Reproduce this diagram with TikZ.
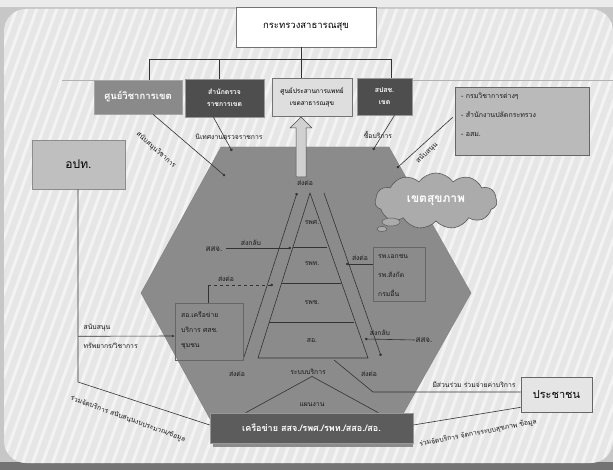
\documentclass[tikz,border=0pt]{standalone}
\usepackage{fontspec}
\newfontfamily\thai[Script=Thai]{Loma}
\usetikzlibrary{shapes.symbols,arrows.meta,calc}
\definecolor{bgc}{HTML}{E6E6E6}
\definecolor{hexc}{HTML}{8B8B8B}
\definecolor{dkc}{HTML}{4E4E4E}
\definecolor{lnc}{HTML}{333333}
\definecolor{midc}{HTML}{8A8A8A}
\tikzset{
  ln/.style={draw=lnc, line width=0.6pt},
  dot/.style={ln, -{Circle[length=2.6pt]}},
  arr/.style={ln, -{Latex[length=3pt,width=2.4pt]}},
  lbl/.style={font=\thai\fontsize{6.8}{8}\selectfont, text=black!90, inner sep=0.5pt},
  boxw/.style={draw=black!55, line width=0.6pt, fill=white, font=\thai\fontsize{9.5}{10}\selectfont},
  boxdk/.style={draw=black!40, line width=0.6pt, fill=dkc, text=white, align=center, font=\thai\bfseries\fontsize{6.8}{12}\selectfont},
  boxlt/.style={draw=black!55, line width=0.6pt, fill=black!13, align=center, font=\thai\fontsize{6.5}{12}\selectfont},
  inbox/.style={draw=black!60, line width=0.6pt, anchor=north west, inner sep=0pt},
  intext/.style={anchor=north west, align=left, inner sep=0pt, text=black!90}
}
\begin{document}
\begin{tikzpicture}[x=1pt,y=-1pt]
\useasboundingbox (0,0) rectangle (613,470);
% background
\fill[black!22] (0,0) rectangle (613,470);
\fill[black!8] (0,0) rectangle (613,7);
\fill[black!55] (0,462) rectangle (613,470);
\fill[bgc, rounded corners=22pt] (4,9) rectangle (613,463);
\begin{scope}
\clip[rounded corners=22pt] (4,9) rectangle (613,463);
\foreach \i in {-200,-190,...,800} \draw[white, line width=3pt, opacity=0.55] (\i,470) -- (\i+170,0);
\end{scope}
\draw[black!30] (62,80) -- (94,80);
\draw[black!30] (413,80) -- (613,80);
% hexagon
\fill[hexc, draw=black!50, line width=0.4pt] (221,147) -- (389,147) -- (471,293) -- (389,439) -- (221,439) -- (141,293) -- cycle;
% cloud
\node[cloud, cloud puffs=11, cloud puff arc=110, aspect=2.1, draw=black!65, line width=0.6pt, fill=black!33, minimum width=122pt, minimum height=56pt, text=white, font=\thai\bfseries\fontsize{12}{13}\selectfont] (cloud) at (436,201) {เขตสุขภาพ};
\draw[draw=black!65, fill=black!33, line width=0.5pt] (391,222) ellipse (9pt and 4pt);
\draw[draw=black!65, fill=black!33, line width=0.5pt] (382,229) ellipse (5pt and 2.6pt);
% top boxes
\node[boxw, minimum width=140pt, minimum height=40pt] (moph) at (306,27) {กระทรวงสาธารณสุข};
\node[draw=black!35, line width=0.6pt, fill=midc, text=white, minimum width=88pt, minimum height=34pt, font=\thai\bfseries\fontsize{9.5}{10}\selectfont] (b1) at (138,97) {ศูนย์วิชาการเขต};
\node[boxdk, minimum width=79pt, minimum height=38pt] (b2) at (224.5,98) {สำนักตรวจ\\ราชการเขต};
\node[boxlt, minimum width=80pt, minimum height=38pt] (b3) at (312,97) {ศูนย์ประสานการแพทย์\\เขตสาธารณสุข};
\node[boxdk, minimum width=55pt, minimum height=37pt] (b4) at (384.5,96.5) {สปสช.\\เขต};
\coordinate (bc) at (301,59);
\coordinate (bl) at (149,59);
\coordinate (bm) at (219,59);
\coordinate (br) at (391,59);
\draw[ln] (moph.south -| bc) -- (b3.north -| bc);
\draw[ln] (bl) -- (br);
\draw[ln] (bl) -- (b1.north -| bl);
\draw[ln] (bm) -- (b2.north -| bm);
\draw[ln] (br) -- (b4.north -| br);
% right box
\node[draw=black!60, line width=0.6pt, fill=black!27, minimum width=134pt, minimum height=68pt] (rb) at (522,121) {};
\node[intext, font=\thai\fontsize{7}{19}\selectfont] at (461,93) {- กรมวิชาการต่างๆ\\- สำนักงานปลัดกระทรวง\\- อสม.};
% อปท.
\node[draw=black!45, line width=0.6pt, fill=black!25, minimum width=93pt, minimum height=49pt, font=\thai\fontsize{12}{13}\selectfont] (lao) at (78.5,164.5) {อปท.};
% hexagon top connectors
\coordinate (d1) at (225,176);
\coordinate (d2) at (232,151);
\coordinate (d4) at (373,150);
\coordinate (d5) at (397,168);
\draw[dot] ($(b1.south)+(15,0)$) -- (d1);
\draw[dot] ($(b2.south)+(-11,0)$) -- (d2);
\draw[dot] ($(b4.south)+(10,0)$) -- (d4);
\draw[dot] ($(rb.south west)+(-2,-38)$) -- (d5);
\node[lbl, rotate=-42] at (156,150) {สนับสนุนวิชาการ};
\node[lbl] at (229,137) {นิเทศงานตรวจราชการ};
\node[lbl] at (378,135) {ซื้อบริการ};
\node[lbl, rotate=42] at (427,153) {สนับสนุน};
% up arrow
\node[lbl] (apex) at (305,183) {ส่งต่อ};
\draw[fill=black!18, draw=black!70, line width=0.5pt] (296,177) -- (296,128) -- (290,128) -- (301,117) -- (312,128) -- (306,128) -- (306,177) -- cycle;
% pyramid
\coordinate (pa) at (310,193);
\coordinate (pl) at (258,358);
\coordinate (pr) at (368,358);
\draw[ln] (pa) -- (pl) -- (pr) -- cycle;
\draw[ln] (293,247) -- (327,247);
\draw[ln] (282,283) -- (341,283);
\draw[ln] (269,322) -- (354,322);
\node[lbl] at (312,222) {รพศ.};
\node[lbl] at (312,264) {รพท.};
\node[lbl] at (312,303) {รพช.};
\node[lbl] at (312,341) {สอ.};
\draw[dot] (243,360) -- (297,193);
\draw[dot] (324,193) -- (381,356);
% left inner links
\node[lbl, font=\thai\fontsize{8}{9}\selectfont] (ssj1) at (214,249) {สสจ.};
\draw[dot] (ssj1.east) ++(3,-1) -- (291,248);
\node[lbl] at (251,243) {ส่งกลับ};
\node[inbox, minimum width=68pt, minimum height=57pt] (lb) at (175,303) {};
\node[intext, font=\thai\fontsize{6.8}{15}\selectfont] at (181,312) {สอ.เครือข่าย\\บริการ ศสช.\\ชุมชน};
\coordinate (dk) at (208,285);
\draw[ln] (lb.north -| dk) -- (dk);
\draw[dot, dashed] (dk) -- (273,285);
\node[lbl] at (226,279) {ส่งต่อ};
% right inner
\node[inbox, minimum width=52pt, minimum height=54pt] (rib) at (373,247) {};
\node[intext, font=\thai\fontsize{6.8}{19}\selectfont] at (378,254) {รพ.เอกชน\\รพ.สังกัด\\กรมอื่น};
\draw[dot] (rib.west |- 0,264) -- (346,264);
\node[lbl] at (360,258) {ส่งต่อ};
\node[lbl, font=\thai\fontsize{8}{9}\selectfont] (ssj2) at (424,340) {สสจ.};
\draw[dot] (ssj2.west) -- (365,339);
\node[lbl] at (380,333) {ส่งกลับ};
% bottom labels
\node[lbl] at (237,374) {ส่งต่อ};
\node[lbl] (svc) at (308,372) {ระบบบริการ};
\node[lbl] at (369,374) {ส่งต่อ};
\node[lbl] at (312,405) {แผนงาน};
% bottom box
\fill[black!45] (213,440) rectangle (413,447);
\node[draw=black!40, line width=0.6pt, fill=black!64, text=white, minimum width=203pt, minimum height=30pt, font=\thai\bfseries\fontsize{9}{10}\selectfont] (net) at (311.5,428) {เครือข่าย สสจ./รพศ./รพท./สสอ./สอ.};
\draw[ln] (svc.south) ++(4,1) -- ($(net.north west)+(36,0)$);
\draw[ln] (svc.south) ++(4,1) -- ($(net.north east)+(-35,0)$);
% ประชาชน
\node[draw=black!60, line width=0.6pt, fill=black!10, minimum width=71pt, minimum height=35pt, font=\thai\fontsize{11}{12}\selectfont] (ppl) at (556.5,394.5) {ประชาชน};
\coordinate (pk) at (373,392);
\draw[ln] (334,360) -- (pk) -- (ppl.west |- pk);
\node[lbl] at (474,385) {มีส่วนร่วม ร่วมจ่ายค่าบริการ};
\draw[ln] ($(ppl.south west)+(0,-5)$) -- ($(net.east)+(0,-3)$);
\node[lbl, rotate=11] at (478,433) {ร่วมจัดบริการ จัดการระบบสุขภาพ ข้อมูล};
% อปท. links
\coordinate (lk) at (78,382);
\draw[ln] (lao.south -| lk) -- (lk) -- ($(net.west)+(0,-3)$);
\node[lbl, rotate=-20] at (128,419) {ร่วมจัดบริการ สนับสนุนงบประมาณ/ข้อมูล};
\draw[arr] (lao.south -| lk) ++(0,147) -- (lb.west |- 0,336);
\node[lbl, anchor=west] at (83,328) {สนับสนุน};
\node[lbl, anchor=west] at (83,346) {ทรัพยากร/วิชาการ};
\end{tikzpicture}
\end{document}
